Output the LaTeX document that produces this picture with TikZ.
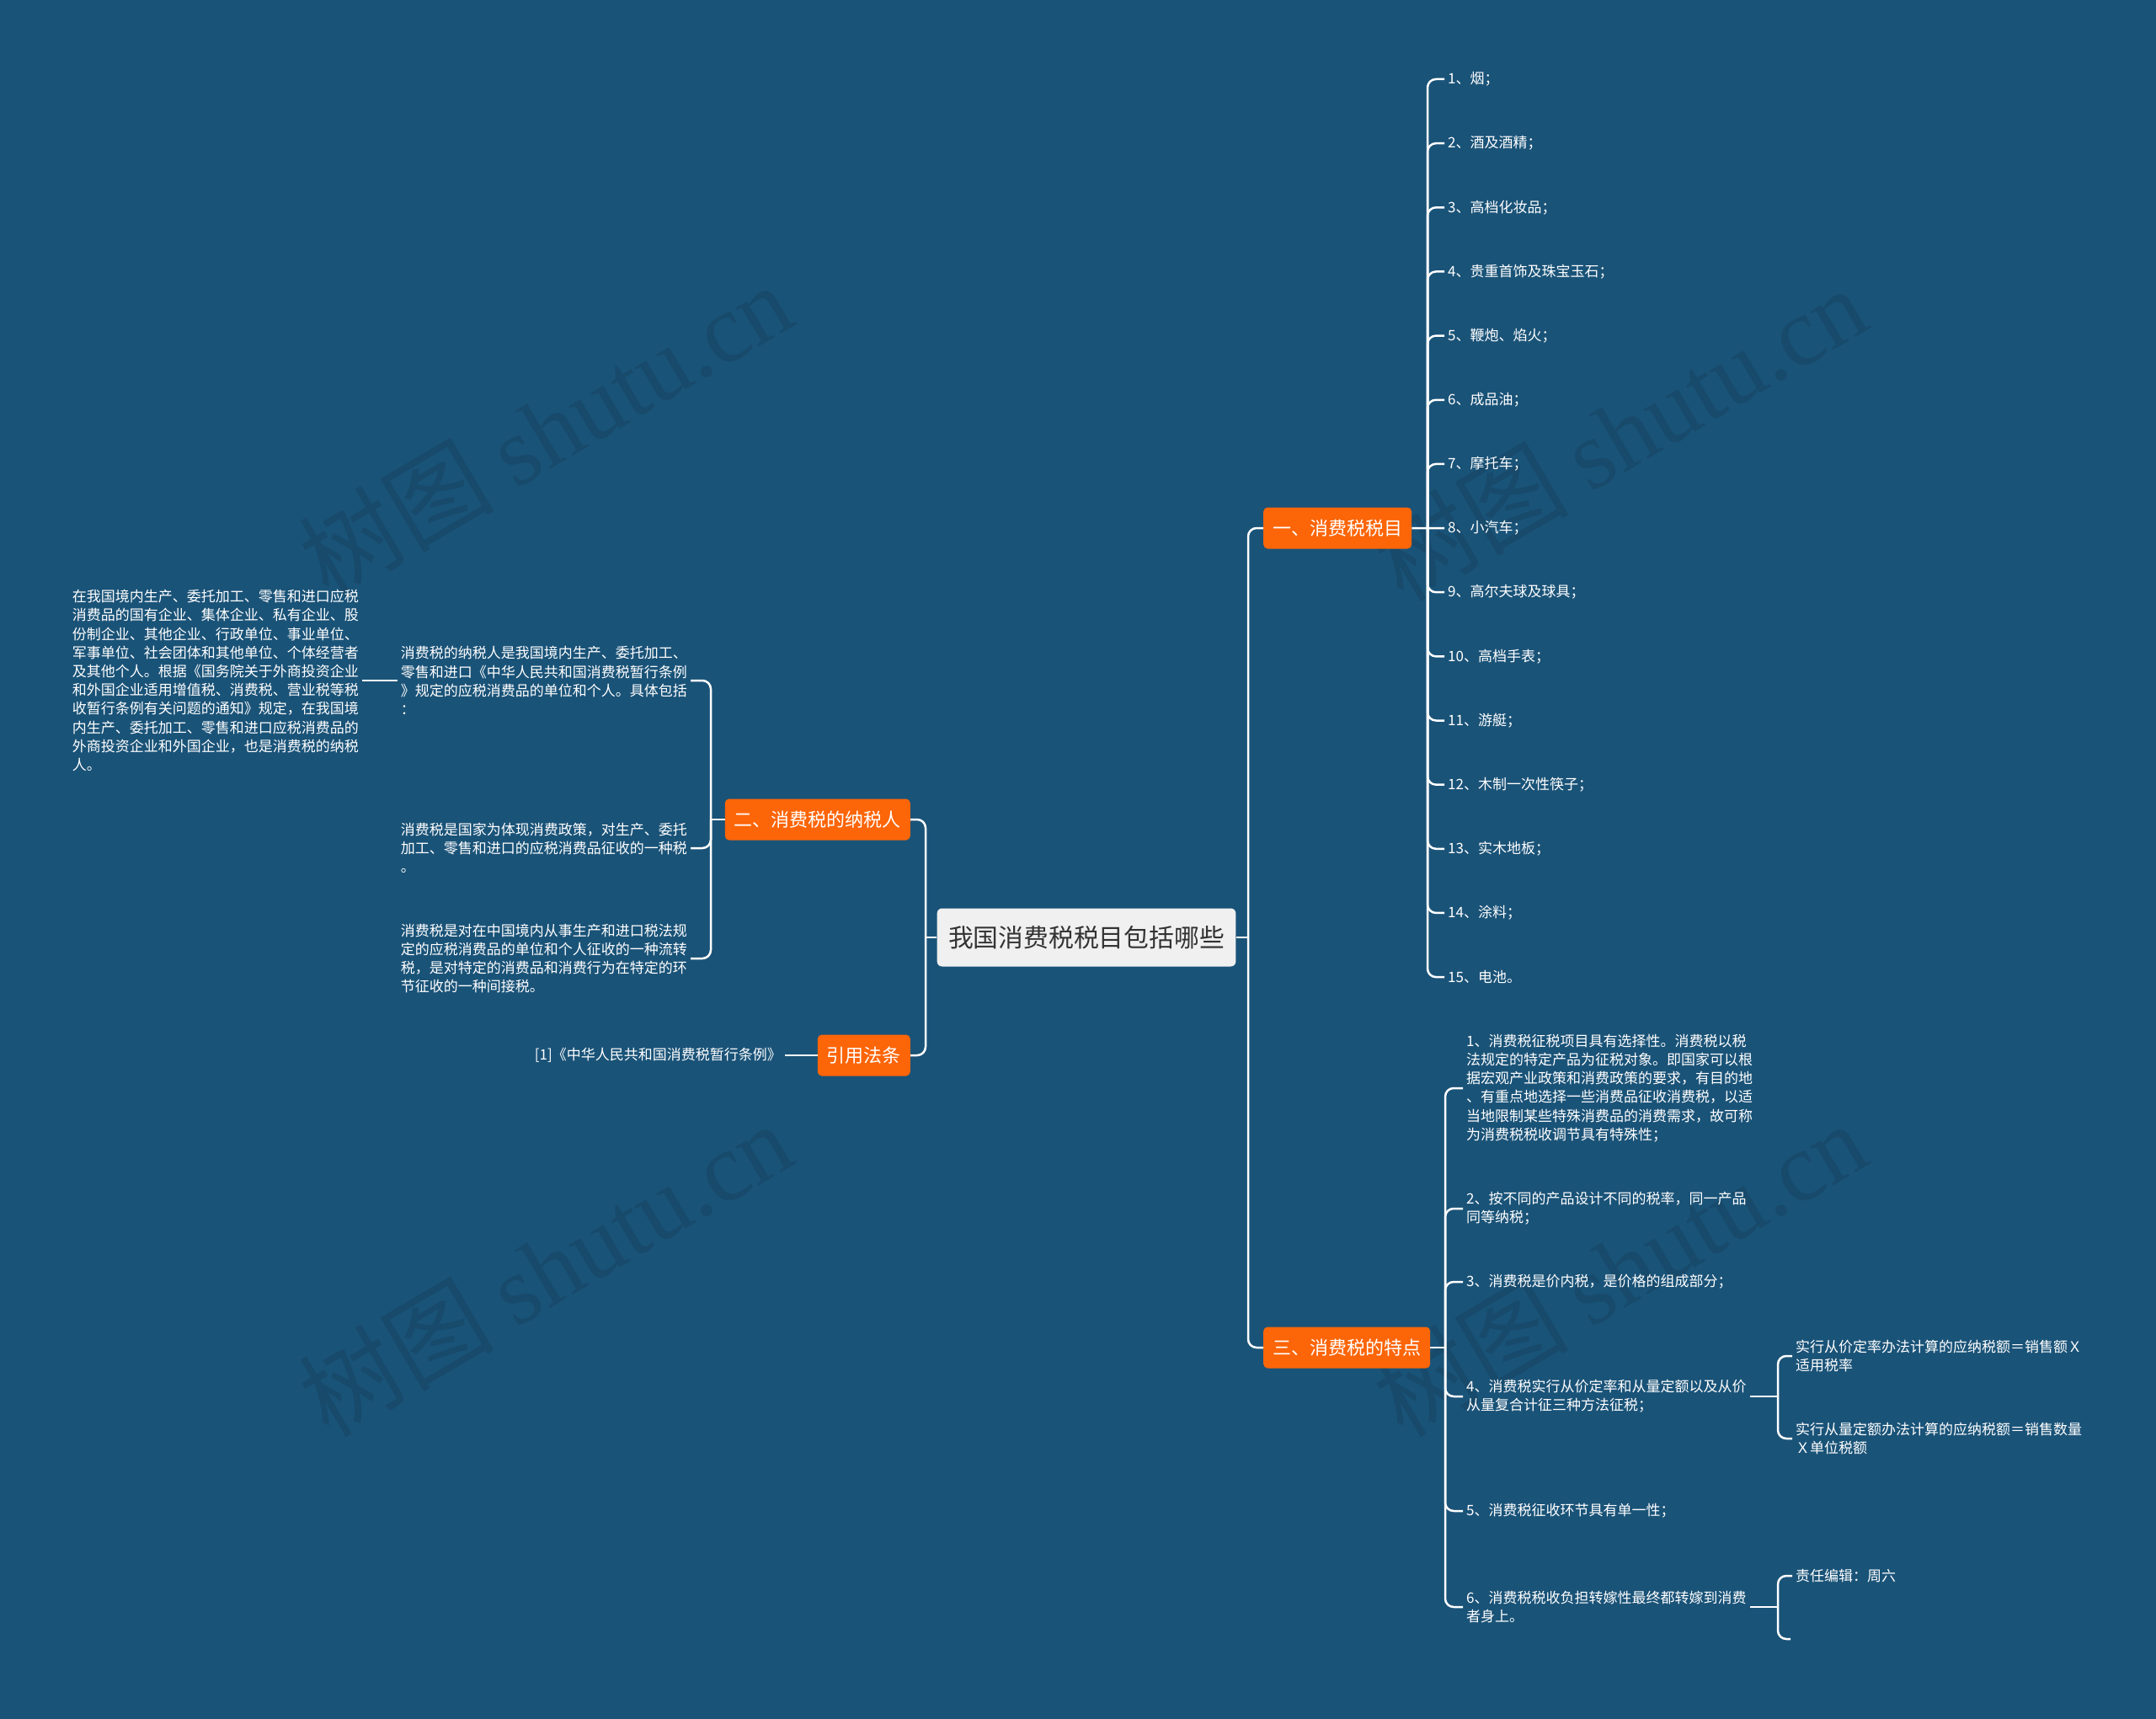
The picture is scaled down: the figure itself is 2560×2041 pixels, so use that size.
\documentclass[tikz,border=0pt]{standalone}
\usepackage{fontspec}
\setmainfont{Noto Sans CJK SC}
\newfontfamily\wmserif{Liberation Serif}
\usetikzlibrary{positioning}
\definecolor{bgblue}{RGB}{26,83,120}
\definecolor{orng}{RGB}{252,101,8}
\definecolor{rootgray}{RGB}{240,240,240}

\begin{document}
\begin{tikzpicture}[x=1pt,y=-1pt,
  root/.style={fill=rootgray,text=black!80,rounded corners=6pt,inner xsep=13.5pt,minimum height=69pt,font=\fontsize{29.8}{36}\selectfont},
  branch/.style={fill=orng,text=white,rounded corners=5pt,inner xsep=11pt,minimum height=49pt,font=\fontsize{22}{26}\selectfont},
  leaf/.style={text=white,align=left,inner sep=4pt,font=\fontsize{17}{22.2}\selectfont},
  link/.style={draw=white,line width=2.5pt,rounded corners=10pt},
  wm/.style={text=black,opacity=0.1,rotate=30.5,font=\fontsize{116}{124}\selectfont}]
  \fill[bgblue] (0,0) rectangle (2560,2041);
  \useasboundingbox (0,0) rectangle (2560,2041);

  \node[wm] (w1) at (647,510) {树图 {\wmserif shutu.cn}};
  \node[wm] (w2) at (1923,514) {树图 {\wmserif shutu.cn}};
  \node[wm] (w3) at (647,1506) {树图 {\wmserif shutu.cn}};
  \node[wm] (w4) at (1923,1506) {树图 {\wmserif shutu.cn}};

  \node[root] (c) at (1290,1113) {我国消费税税目包括哪些};
  \node[branch,anchor=west] (b1) at (1500,627) {一、消费税税目};
  \node[branch,anchor=west] (b3) at (1500,1600) {三、消费税的特点};
  \node[branch,anchor=east] (b2) at (1081,973) {二、消费税的纳税人};
  \node[branch,anchor=east] (b4) at (1081,1253) {引用法条};

  \foreach \t [count=\i] in {烟；,酒及酒精；,高档化妆品；,贵重首饰及珠宝玉石；,鞭炮、焰火；,成品油；,摩托车；,小汽车；,高尔夫球及球具；,高档手表；,游艇；,木制一次性筷子；,实木地板；,涂料；,电池。}
    \node[leaf,anchor=west] (k\i) at (1715,{94+(\i-1)*76.15}) {\i、\t};

  \node[leaf,anchor=west] (s1) at (1737,1292) {1、消费税征税项目具有选择性。消费税以税\\法规定的特定产品为征税对象。即国家可以根\\据宏观产业政策和消费政策的要求，有目的地\\、有重点地选择一些消费品征收消费税，以适\\当地限制某些特殊消费品的消费需求，故可称\\为消费税税收调节具有特殊性；};
  \node[leaf,anchor=west] (s2) at (1737,1435) {2、按不同的产品设计不同的税率，同一产品\\同等纳税；};
  \node[leaf,anchor=west] (s3) at (1737,1522) {3、消费税是价内税，是价格的组成部分；};
  \node[leaf,anchor=west] (s4) at (1737,1658) {4、消费税实行从价定率和从量定额以及从价\\从量复合计征三种方法征税；};
  \node[leaf,anchor=west] (s5) at (1737,1794) {5、消费税征收环节具有单一性；};
  \node[leaf,anchor=west] (s6) at (1737,1908) {6、消费税税收负担转嫁性最终都转嫁到消费\\者身上。};

  \node[leaf,anchor=west] (g1) at (2128,1610) {实行从价定率办法计算的应纳税额＝销售额Ｘ\\适用税率};
  \node[leaf,anchor=west] (g2) at (2128,1708) {实行从量定额办法计算的应纳税额＝销售数量\\Ｘ单位税额};
  \node[leaf,anchor=west] (g3) at (2128,1871) {责任编辑：周六};
  \coordinate (g4) at (2126,1946);

  \node[leaf,anchor=east] (l1) at (820,808) {消费税的纳税人是我国境内生产、委托加工、\\零售和进口《中华人民共和国消费税暂行条例\\》规定的应税消费品的单位和个人。具体包括\\：};
  \node[leaf,anchor=east] (l2) at (820,1007) {消费税是国家为体现消费政策，对生产、委托\\加工、零售和进口的应税消费品征收的一种税\\。};
  \node[leaf,anchor=east] (l3) at (820,1138) {消费税是对在中国境内从事生产和进口税法规\\定的应税消费品的单位和个人征收的一种流转\\税，是对特定的消费品和消费行为在特定的环\\节征收的一种间接税。};
  \node[leaf,anchor=east] (l0) at (430,808) {在我国境内生产、委托加工、零售和进口应税\\消费品的国有企业、集体企业、私有企业、股\\份制企业、其他企业、行政单位、事业单位、\\军事单位、社会团体和其他单位、个体经营者\\及其他个人。根据《国务院关于外商投资企业\\和外国企业适用增值税、消费税、营业税等税\\收暂行条例有关问题的通知》规定，在我国境\\内生产、委托加工、零售和进口应税消费品的\\外商投资企业和外国企业，也是消费税的纳税\\人。};
  \node[leaf,anchor=east] (r1) at (932,1253) {[1]《中华人民共和国消费税暂行条例》};

  \draw[link] (c.east) -- (1482,1113);
  \draw[link] (1482,1113) |- (b1.west);
  \draw[link] (1482,1113) |- (b3.west);
  \draw[link] (c.west) -- (1099,1113);
  \draw[link] (1099,1113) |- (b2.east);
  \draw[link] (1099,1113) |- (b4.east);

  \draw[link] (b1.east) -- (k8.west);
  \foreach \i in {1,...,7,9,10,...,15}
    \draw[link] (1695,627) |- (k\i.west);

  \draw[link] (b3.east) -- (1716,1600);
  \foreach \i in {1,...,6}
    \draw[link] (1716,1600) |- (s\i.west);

  \draw[link] (s4.east) -- (2111,1658);
  \draw[link] (2111,1658) |- (g1.west);
  \draw[link] (2111,1658) |- (g2.west);
  \draw[link] (s6.east) -- (2111,1908);
  \draw[link] (2111,1908) |- (g3.west);
  \draw[link] (2111,1908) |- (g4);

  \draw[link] (b2.west) -- (844,973);
  \foreach \i in {1,2,3}
    \draw[link] (844,973) |- (l\i.east);
  \draw[link] (l1.west) -- (l0.east);
  \draw[link] (b4.west) -- (r1.east);
\end{tikzpicture}
\end{document}
